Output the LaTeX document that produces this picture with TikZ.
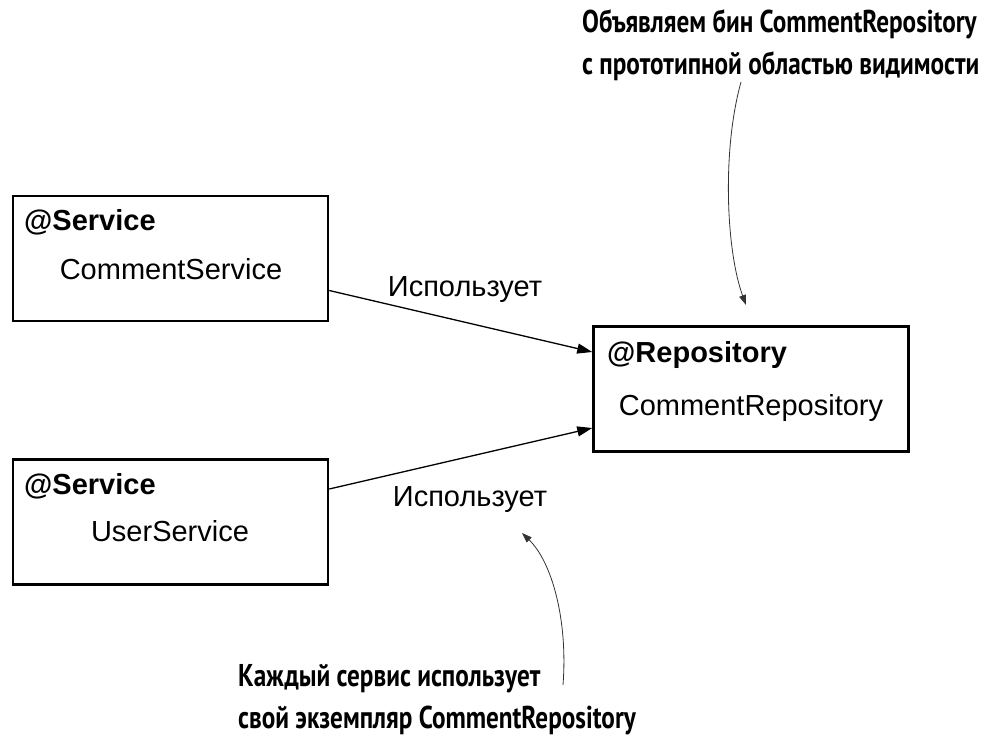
\documentclass[tikz,border=0pt]{standalone}
\usepackage{fontspec}
\setmainfont{Liberation Sans}
\newfontfamily\notefont[FakeStretch=0.8]{PT Sans}
\usetikzlibrary{arrows.meta}

\begin{document}
\begin{tikzpicture}[x=1pt,y=-1pt,
    bean/.style={draw,line width=2.5pt,minimum width=315pt,minimum height=125pt,inner sep=0pt},
    txt/.style={inner sep=0pt,font=\fontsize{29}{34}\selectfont},
    note/.style={inner sep=0pt,align=left,font=\notefont\bfseries\fontsize{31.5}{42}\selectfont},
    uses/.style={line width=1.3pt,-{Triangle[length=15pt,width=10pt]}},
    hint/.style={line width=0.8pt,draw=black!80,-{Triangle[length=10pt,width=7pt]}}]
    \useasboundingbox (0,0) rectangle (986,739);
    % beans
    \node[bean] (cs) at (170.5,258.5) {};
    \node[bean] (us) at (170.5,522) {};
    \node[bean] (repo) at (751,389) {};
    \node[txt,anchor=base west] (cslbl) at (24,230) {\bfseries @Service};
    \node[txt,anchor=base] (csname) at (171,279) {CommentService};
    \node[txt,anchor=base west] (uslbl) at (24,494) {\bfseries @Service};
    \node[txt,anchor=base] (usname) at (170,541) {UserService};
    \node[txt,anchor=base west] (repolbl) at (607,362) {\bfseries @Repository};
    \node[txt,anchor=base] (reponame) at (751,415) {CommentRepository};
    % connectors
    \draw[uses] ([yshift=-32pt]cs.east) -- ([yshift=37pt]repo.west);
    \draw[uses] ([yshift=33pt]us.east) -- ([yshift=-39pt]repo.west);
    \node[txt,anchor=base] (use1) at (465,296) {Использует};
    \node[txt,anchor=base] (use2) at (470,506) {Использует};
    % notes
    \node[note,anchor=north west] (note1) at (582,9) {Объявляем бин CommentRepository\\с прототипной областью видимости};
    \node[note,anchor=north west] (note2) at (238,664) {Каждый сервис использует\\свой экземпляр CommentRepository};
    \coordinate (tip1) at (746,305);
    \coordinate (tip2) at (522,533);
    \draw[hint] (741,82) .. controls (722,150) and (726,250) .. (tip1);
    \draw[hint] (563,685) .. controls (568,620) and (552,562) .. (tip2);
\end{tikzpicture}
\end{document}
